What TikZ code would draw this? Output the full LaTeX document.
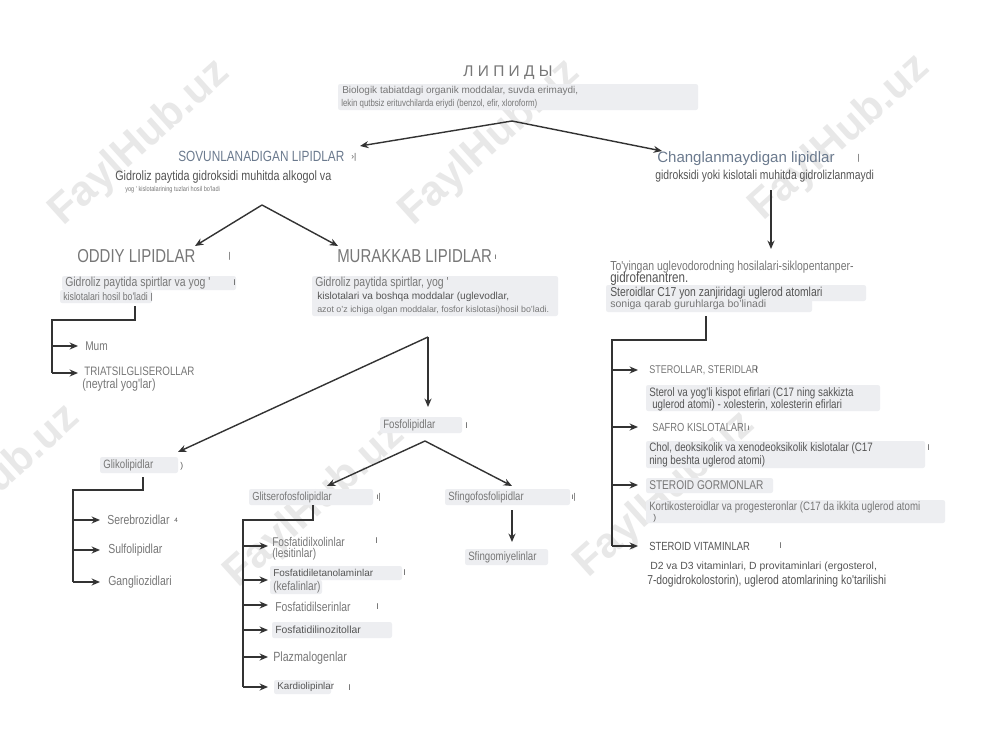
\documentclass[tikz,border=0pt]{standalone}
\usepackage{fontspec}
\setmainfont{Liberation Sans}
\newfontfamily\narrowf[FakeStretch=0.8]{Liberation Sans}
\usetikzlibrary{arrows.meta}
\newcommand\fsz[1]{\fontsize{#1}{#1}\selectfont}
\definecolor{txt}{HTML}{777777}
\definecolor{dtxt}{HTML}{555555}
\definecolor{blu}{HTML}{6B7A8E}
\definecolor{hl}{HTML}{EDEEF1}
\definecolor{ln}{HTML}{333333}
\definecolor{wmc}{HTML}{E8E8E8}
\begin{document}
\begin{tikzpicture}[x=0.025cm,y=-0.025cm,
  t/.style={anchor=west,inner sep=0pt,text=txt},
  nar/.style={font=\narrowf\fsz{#1}},
  reg/.style={font=\fsz{#1}},
  mk/.style={anchor=west,inner sep=0pt,text=dtxt,font=\fsz{6pt}},
  hlb/.style={fill=hl,rounded corners=1.5pt},
  con/.style={draw=ln,line width=1pt},
  arr/.style={con,-{Stealth[length=6pt,width=5pt]}},
  wm/.style={text=wmc,font=\bfseries\fsz{30pt},rotate=42,inner sep=0pt}]
\useasboundingbox[fill=white] (0,0) rectangle (1000,750);
% watermarks
\node[wm] (w1) at (140,143) {FaylHub.uz};
\node[wm] (w2) at (490,143) {FaylHub.uz};
\node[wm] (w3) at (840,138) {FaylHub.uz};
\node[wm] (w4) at (-10,488) {FaylHub.uz};
\node[wm] (w5) at (315,505) {FaylHub.uz};
\node[wm] (w6) at (665,495) {FaylHub.uz};
% highlight boxes
\fill[hlb] (338,84) rectangle (698,110);
\fill[hlb] (62,276) rectangle (236,290);
\fill[hlb] (60,290) rectangle (152,303);
\fill[hlb] (312,276) rectangle (558,316);
\fill[hlb] (380,417) rectangle (462,433);
\fill[hlb] (100,457) rectangle (178,473);
\fill[hlb] (249,489) rectangle (373,505);
\fill[hlb] (445,489) rectangle (570,505);
\fill[hlb] (465,549) rectangle (548,565);
\fill[hlb] (270,566) rectangle (402,580);
\fill[hlb] (270,580) rectangle (322,594);
\fill[hlb] (272,622) rectangle (392,638);
\fill[hlb] (274,680) rectangle (331,694);
\fill[hlb] (606,285) rectangle (866,301);
\fill[hlb] (606,298) rectangle (812,312);
\fill[hlb] (646,385) rectangle (880,411);
\fill[hlb] (646,441) rectangle (925,468);
\fill[hlb] (646,478) rectangle (773,493);
\fill[hlb] (646,500) rectangle (945,523);
% top
\node[anchor=center,inner sep=0pt,text=txt,font=\fsz{11pt}] (lip) at (508,73) {Л И П И Д Ы};
\node[t,reg=7.1pt] (lip1) at (342,91) {Biologik tabiatdagi organik moddalar, suvda erimaydi,};
\node[t,nar=7pt] (lip2) at (341,104) {lekin qutbsiz erituvchilarda eriydi (benzol, efir, xloroform)};
% sovunlanadigan
\node[t,nar=10.5pt,text=blu] (sov) at (178,156) {SOVUNLANADIGAN LIPIDLAR};
\node[mk] (sovm) at (351,157) {›|};
\node[t,nar=9.6pt,text=dtxt] (sov1) at (115,177) {Gidroliz paytida gidroksidi muhitda alkogol va};
\node[t,nar=5pt] (sov2) at (125,190) {yog ' kislotalarining tuzlari hosil bo'ladi};
% changlanmaydigan
\node[t,reg=10.7pt,text=blu] (cha) at (657,159) {Changlanmaydigan lipidlar};
\node[mk] (cham) at (857,158) {|};
\node[t,nar=9.2pt,text=dtxt] (cha1) at (655,176) {gidroksidi yoki kislotali muhitda gidrolizlanmaydi};
% oddiy
\node[t,nar=13.3pt,text=txt] (odd) at (77,256) {ODDIY LIPIDLAR};
\node[mk] (oddm) at (228,256) {|};
\node[t,nar=9.3pt] (odd1) at (65,283) {Gidroliz paytida spirtlar va yog '};
\node[mk] (odd1m) at (233,283) {I};
\node[t,nar=7.8pt] (odd2) at (63,297) {kislotalari hosil bo'ladi};
\node[mk] (odd2m) at (150,297) {|};
\node[t,nar=9pt] (mum) at (85,346) {Mum};
\node[t,nar=8.7pt] (tri) at (84,371) {TRIATSILGLISEROLLAR};
\node[t,nar=9.5pt] (tri2) at (82,385) {(neytral yog'lar)};
% murakkab
\node[t,nar=13.3pt,text=txt] (mur) at (337,256) {MURAKKAB LIPIDLAR};
\node[mk] (murm) at (494,257) {ı};
\node[t,nar=9.3pt] (mur1) at (315,283) {Gidroliz paytida spirtlar, yog '};
\node[t,reg=7.2pt,text=dtxt] (mur2) at (317,297) {kislotalari va boshqa moddalar (uglevodlar,};
\node[t,reg=6.3pt] (mur3) at (317,310) {azot o'z ichiga olgan moddalar, fosfor kislotasi)hosil bo'ladi.};
% fosfolipidlar
\node[t,nar=8.6pt] (fos) at (383,425) {Fosfolipidlar};
\node[mk] (fosm) at (465,426) {I};
\node[t,nar=8.6pt] (gli) at (103,465) {Glikolipidlar};
\node[mk] (glim) at (180,466) {)};
\node[t,nar=9.3pt] (ser) at (107,520) {Serebrozidlar};
\node[mk,font=\fsz{4.5pt}] (serm) at (174,520) {4};
\node[t,nar=9.3pt] (sul) at (108,550) {Sulfolipidlar};
\node[t,nar=9.3pt] (gan) at (108,582) {Gangliozidlari};
\node[t,nar=8.3pt] (gfl) at (252,497) {Glitserofosfolipidlar};
\node[mk] (gflm) at (376,497) {ı|};
\node[t,nar=8.5pt] (sfl) at (448,497) {Sfingofosfolipidlar};
\node[mk] (sflm) at (571,497) {ı|};
\node[t,nar=8.6pt] (sfm) at (468,557) {Sfingomiyelinlar};
% glitserofosfolipid children
\node[t,nar=9pt] (px) at (272,542) {Fosfatidilxolinlar};
\node[t,nar=9pt] (px2) at (272,554) {(lesitinlar)};
\node[mk] (pxm) at (375,541) {I};
\node[t,reg=7.1pt,text=dtxt] (pe) at (273,573) {Fosfatidiletanolaminlar};
\node[mk] (pem) at (403,573) {I};
\node[t,nar=9pt] (pe2) at (273,587) {(kefalinlar)};
\node[t,nar=9.2pt] (ps) at (275,607) {Fosfatidilserinlar};
\node[mk] (psm) at (376,607) {I};
\node[t,reg=7.4pt,text=dtxt] (pin) at (275,630) {Fosfatidilinozitollar};
\node[t,nar=9.5pt] (pl) at (273,658) {Plazmalogenlar};
\node[t,reg=7pt,text=dtxt] (kar) at (277,687) {Kardiolipinlar};
\node[mk] (karm) at (348,688) {I};
% right side
\node[t,nar=9.3pt] (r1) at (610,267) {To'yingan uglevodorodning hosilalari-siklopentanper-};
\node[t,nar=10.3pt,text=dtxt] (r2) at (610,279) {gidrofenantren.};
\node[t,nar=9.2pt,text=dtxt] (r3) at (610,293) {Steroidlar C17 yon zanjiridagi uglerod atomlari};
\node[t,reg=7.5pt] (r4) at (610,305) {soniga qarab guruhlarga bo'linadi};
\node[t,nar=8pt] (st) at (649,370) {STEROLLAR, STERIDLAR};
\node[mk] (stm) at (755,370) {I};
\node[t,nar=8.7pt,text=dtxt] (st1) at (649,393) {Sterol va yog'li kispot efirlari (C17 ning sakkizta};
\node[t,nar=8.7pt,text=dtxt] (st2) at (652,405) {uglerod atomi) - xolesterin, xolesterin efirlari};
\node[t,nar=8.3pt] (sa) at (652,427) {SAFRO KISLOTALARI};
\node[mk] (sam) at (747,428) {ı};
\node[t,nar=8.7pt,text=dtxt] (sa1) at (649,448) {Chol, deoksikolik va xenodeoksikolik kislotalar (C17};
\node[mk] (sa1m) at (927,448) {I};
\node[t,nar=8.7pt,text=dtxt] (sa2) at (649,461) {ning beshta uglerod atomi)};
\node[t,nar=9pt] (sg) at (649,485) {STEROID GORMONLAR};
\node[t,nar=8.6pt] (sg1) at (649,507) {Kortikosteroidlar va progesteronlar (C17 da ikkita uglerod atomi};
\node[mk] (sg2) at (653,518) {)};
\node[t,nar=8.4pt,text=dtxt] (sv) at (649,546) {STEROID VITAMINLAR};
\node[mk] (svm) at (779,546) {I};
\node[t,reg=7.4pt,text=dtxt] (sv1) at (650,567) {D2 va D3 vitaminlari, D provitaminlari (ergosterol,};
\node[t,nar=9.2pt,text=dtxt] (sv2) at (647,581) {7-dogidrokolostorin), uglerod atomlarining ko'tarilishi};
% connector points
\coordinate (a1) at (512,121);
\coordinate (sovt) at (360,146);
\coordinate (chat) at (662,151);
\coordinate (a2) at (262,205);
\coordinate (oddt) at (195,246);
\coordinate (murt) at (338,246);
\coordinate (chs) at (771,190);
\coordinate (cht) at (771,249);
\coordinate (o1) at (135,306);
\coordinate (o2) at (135,320);
\coordinate (o3) at (52,320);
\coordinate (om) at (52,346);
\coordinate (ot) at (52,373);
\coordinate (omt) at (78,346);
\coordinate (ott) at (78,373);
\coordinate (a3) at (428,337);
\coordinate (glit) at (178,452);
\coordinate (fost) at (428,407);
\coordinate (a4) at (425,441);
\coordinate (gflt) at (327,486);
\coordinate (sflt) at (512,486);
\coordinate (g1) at (143,477);
\coordinate (g2) at (143,490);
\coordinate (g3) at (73,490);
\coordinate (gs) at (73,520);
\coordinate (gu) at (73,550);
\coordinate (gg) at (73,582);
\coordinate (gst) at (100,520);
\coordinate (gut) at (100,550);
\coordinate (ggt) at (100,582);
\coordinate (f1) at (313,505);
\coordinate (f2) at (313,520);
\coordinate (f3) at (243,520);
\coordinate (fa) at (243,546);
\coordinate (fb) at (243,580);
\coordinate (fc) at (243,605);
\coordinate (fd) at (243,630);
\coordinate (fe) at (243,657);
\coordinate (ff) at (243,687);
\coordinate (fat) at (268,546);
\coordinate (fbt) at (268,580);
\coordinate (fct) at (268,605);
\coordinate (fdt) at (268,630);
\coordinate (fet) at (268,657);
\coordinate (fft) at (268,687);
\coordinate (s1) at (512,510);
\coordinate (s2) at (512,542);
\coordinate (r5) at (706,316);
\coordinate (r6) at (706,340);
\coordinate (r7) at (612,340);
\coordinate (ra) at (612,370);
\coordinate (rb) at (612,427);
\coordinate (rc) at (612,485);
\coordinate (rd) at (612,546);
\coordinate (rat) at (638,370);
\coordinate (rbt) at (638,427);
\coordinate (rct) at (638,485);
\coordinate (rdt) at (638,546);
% connectors
\draw[arr] (a1) -- (sovt);
\draw[arr] (a1) -- (chat);
\draw[arr] (a2) -- (oddt);
\draw[arr] (a2) -- (murt);
\draw[arr] (chs) -- (cht);
\draw[con] (o1) -- (o2) -- (o3) -- (ot);
\draw[arr] (om) -- (omt);
\draw[arr] (ot) -- (ott);
\draw[arr] (a3) -- (glit);
\draw[arr] (a3) -- (fost);
\draw[arr] (a4) -- (gflt);
\draw[arr] (a4) -- (sflt);
\draw[con] (g1) -- (g2) -- (g3) -- (gg);
\draw[arr] (gs) -- (gst);
\draw[arr] (gu) -- (gut);
\draw[arr] (gg) -- (ggt);
\draw[con] (f1) -- (f2) -- (f3) -- (ff);
\draw[arr] (fa) -- (fat);
\draw[arr] (fb) -- (fbt);
\draw[arr] (fc) -- (fct);
\draw[arr] (fd) -- (fdt);
\draw[arr] (fe) -- (fet);
\draw[arr] (ff) -- (fft);
\draw[arr] (s1) -- (s2);
\draw[con] (r5) -- (r6) -- (r7) -- (rd);
\draw[arr] (ra) -- (rat);
\draw[arr] (rb) -- (rbt);
\draw[arr] (rc) -- (rct);
\draw[arr] (rd) -- (rdt);
\end{tikzpicture}
\end{document}
